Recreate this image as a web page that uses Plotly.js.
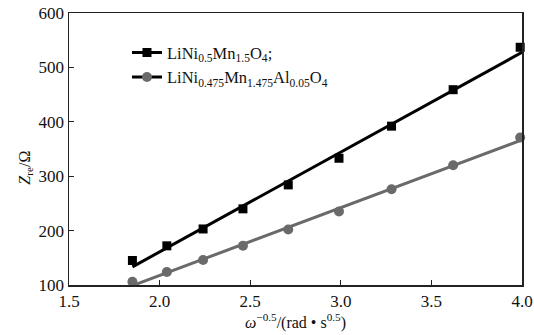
<!DOCTYPE html>
<html>
<head>
<meta charset="utf-8">
<script src="https://cdn.plot.ly/plotly-3.0.1.min.js"></script>
<style>html,body{margin:0;padding:0;background:#fff;}#chart{width:534px;height:335px;}</style>
</head>
<body>
<div id="chart"></div>
<script>
// Data
const xValues = [1.85, 2.04, 2.24, 2.46, 2.71, 2.99, 3.28, 3.62, 3.99];
const zreUndoped = [145, 172, 203, 240, 284, 333, 392, 459, 537];
const zreAlDoped = [106, 124, 146, 172, 202, 235, 276, 320, 371];
const seriesNames = [
  'LiNi<sub>0.5</sub>Mn<sub>1.5</sub>O<sub>4</sub>;',
  'LiNi<sub>0.475</sub>Mn<sub>1.475</sub>Al<sub>0.05</sub>O<sub>4</sub>'
];
const xTicks = [1.5, 2.0, 2.5, 3.0, 3.5, 4.0];
const yTicks = [100, 200, 300, 400, 500, 600];
const fitRange = [1.85, 4.0];

function linfit(x, y) {
  const n = x.length;
  const mx = x.reduce((a, b) => a + b, 0) / n;
  const my = y.reduce((a, b) => a + b, 0) / n;
  let sxy = 0, sxx = 0;
  for (let i = 0; i < n; i++) { sxy += (x[i] - mx) * (y[i] - my); sxx += (x[i] - mx) ** 2; }
  const k = sxy / sxx;
  return xx => my + k * (xx - mx);
}
const f1 = linfit(xValues, zreUndoped);
const f2 = linfit(xValues, zreAlDoped);

const black = '#000000', gray = '#6a6a6a';
const traces = [
  {x: fitRange, y: fitRange.map(f1), mode: 'lines', line: {color: black, width: 3}, showlegend: false, hoverinfo: 'skip'},
  {x: fitRange, y: fitRange.map(f2), mode: 'lines', line: {color: gray, width: 3}, showlegend: false, hoverinfo: 'skip'},
  {x: xValues, y: zreUndoped, mode: 'markers', marker: {symbol: 'square', size: 9, color: black}, showlegend: false, cliponaxis: false},
  {x: xValues, y: zreAlDoped, mode: 'markers', marker: {symbol: 'circle', size: 10, color: gray}, showlegend: false, cliponaxis: false},
  {x: [null], y: [null], mode: 'lines+markers', name: seriesNames[0], line: {color: black, width: 3}, marker: {symbol: 'square', size: 9, color: black}},
  {x: [null], y: [null], mode: 'lines+markers', name: seriesNames[1], line: {color: black, width: 3}, marker: {symbol: 'circle', size: 10, color: gray}}
];

const fam = '"Liberation Serif", "Times New Roman", serif';
const layout = {
  width: 534, height: 335,
  margin: {l: 69, r: 12, t: 13, b: 50},
  paper_bgcolor: '#fff', plot_bgcolor: '#fff',
  font: {family: fam, size: 17, color: '#111'},
  showlegend: true,
  legend: {x: 0.128, y: 0.918, xanchor: 'left', yanchor: 'top', bgcolor: 'rgba(0,0,0,0)', font: {family: fam, size: 16.5, color: '#111'}, tracegroupgap: 0, itemwidth: 30},
  xaxis: {
    range: [1.5, 4.0], tickvals: xTicks, ticktext: xTicks.map(v => v.toFixed(1)),
    tickfont: {family: fam, size: 17, color: '#111'},
    ticks: 'inside', ticklen: 5, tickcolor: '#222', showline: true, linecolor: '#222', linewidth: 1.5,
    mirror: true, showgrid: false, zeroline: false,
    title: {text: '<i>ω</i><sup>−0.5</sup>/(rad • s<sup>0.5</sup>)', standoff: 2, font: {family: fam, size: 16}}
  },
  yaxis: {
    range: [100, 600], tickvals: yTicks,
    tickfont: {family: fam, size: 17, color: '#111'},
    ticks: 'inside', ticklen: 5, tickcolor: '#222', showline: true, linecolor: '#222', linewidth: 1.5,
    mirror: true, showgrid: false, zeroline: false
  },
  annotations: [{
    text: '<i>Z</i><sub>re</sub>/Ω', textangle: -90, showarrow: false,
    xref: 'paper', yref: 'paper', x: -0.098, y: 0.43, xanchor: 'center', yanchor: 'middle',
    font: {family: fam, size: 16, color: '#111'}
  }]
};
Plotly.newPlot('chart', traces, layout, {displayModeBar: false, staticPlot: true});
</script>
</body>
</html>
